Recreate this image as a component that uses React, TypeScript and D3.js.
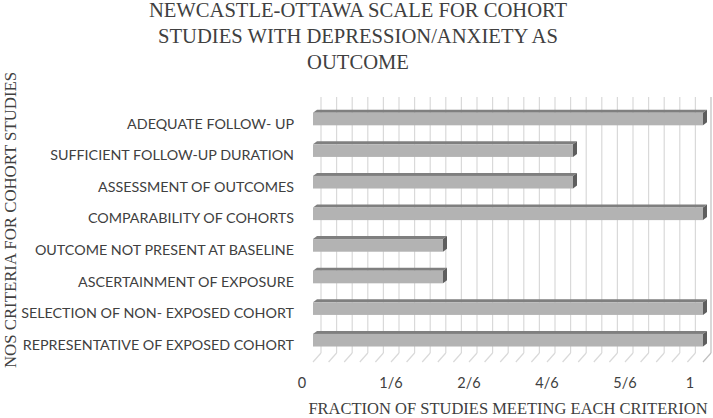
import React from "react";
import * as d3 from "d3";

const categories = [
  "ADEQUATE FOLLOW- UP",
  "SUFFICIENT FOLLOW-UP DURATION",
  "ASSESSMENT OF OUTCOMES",
  "COMPARABILITY OF COHORTS",
  "OUTCOME NOT PRESENT AT BASELINE",
  "ASCERTAINMENT OF EXPOSURE",
  "SELECTION OF NON- EXPOSED COHORT",
  "REPRESENTATIVE OF EXPOSED COHORT",
];
const values = [1, 4 / 6, 4 / 6, 1, 2 / 6, 2 / 6, 1, 1];
const tickValues = [0, 0.2, 0.4, 0.6, 0.8, 1];
const tickLabels = ["0", "1/6", "2/6", "4/6", "5/6", "1"];
const titleLines = [
  "NEWCASTLE-OTTAWA SCALE FOR COHORT",
  "STUDIES WITH DEPRESSION/ANXIETY AS",
  "OUTCOME",
];
const yTitle = "NOS CRITERIA FOR COHORT STUDIES";
const xTitle = "FRACTION OF STUDIES MEETING EACH CRITERION";

const W = 713;
const H = 418;
const serif = "'Liberation Serif', 'Times New Roman', serif";
const sans = "Lato, 'Noto Sans', sans-serif";

export default function App() {
  const x = d3.scaleLinear().domain([0, 1]).range([313, 703]);
  const y = d3
    .scaleBand<string>()
    .domain(categories)
    .range([103.2, 356])
    .paddingInner(0.6)
    .paddingOuter(0.3);

  const wdx = 8;
  const wdy = -9;
  const wallTop = 97;
  const wallBottom = 353;
  const bdx = 4;
  const bdy = -3;

  const grid = d3.range(0, 26).map((i) => i / 25);

  return (
    <svg
      width={W}
      height={H}
      style={{ position: "absolute", left: 0, top: 0, background: "#fff" }}
    >
      <g fill="#404040" fontFamily={serif} fontSize={20.6} textAnchor="middle">
        {titleLines.map((t, i) => (
          <text key={i} x={358} y={17 + i * 26}>
            {t}
          </text>
        ))}
      </g>

      <g strokeWidth={1.2}>
        {grid.map((g, i) => (
          <line
            key={"g" + i}
            x1={x(g) + wdx}
            x2={x(g) + wdx}
            y1={wallTop}
            y2={wallBottom}
            stroke={i === 25 ? "#bfbfbf" : "#d9d9d9"}
          />
        ))}
        {grid.map((g, i) => (
          <line
            key={"f" + i}
            x1={x(g) + wdx}
            x2={x(g)}
            y1={wallBottom}
            y2={wallBottom - wdy}
            stroke={i === 25 ? "#bfbfbf" : "#d9d9d9"}
          />
        ))}
      </g>

      {categories.map((c, i) => {
        const y0 = y(c) as number;
        const y1 = y0 + y.bandwidth();
        const x0 = x(0);
        const x1 = x(values[i]);
        return (
          <g key={c}>
            <polygon
              points={`${x0},${y0} ${x0 + bdx},${y0 + bdy} ${x1 + bdx},${y0 + bdy} ${x1},${y0}`}
              fill="#7f7f7f"
            />
            <polygon
              points={`${x1},${y0} ${x1 + bdx},${y0 + bdy} ${x1 + bdx},${y1 + bdy} ${x1},${y1}`}
              fill="#5e5e5e"
            />
            <rect x={x0} y={y0} width={x1 - x0} height={y1 - y0} fill="#b3b3b3" />
          </g>
        );
      })}

      <g fill="#404040" fontFamily={sans} fontSize={14.3} textAnchor="end">
        {categories.map((c) => (
          <text
            key={c}
            x={294}
            y={(y(c) as number) + y.bandwidth() / 2 + 6}
            dominantBaseline="middle"
          >
            {c}
          </text>
        ))}
      </g>

      <g fill="#404040" fontFamily={sans} fontSize={14.5} textAnchor="middle">
        {tickValues.map((v, i) => {
          const off = i === 0 ? -11 : i === tickValues.length - 1 ? -13 : 0;
          return (
            <text key={i} x={x(v) + off} y={388}>
              {tickLabels[i]}
            </text>
          );
        })}
      </g>

      <text
        x={508}
        y={414}
        fill="#404040"
        fontFamily={serif}
        fontSize={16.5}
        textAnchor="middle"
      >
        {xTitle}
      </text>
      <text
        transform={`translate(16, 220) rotate(-90)`}
        fill="#404040"
        fontFamily={serif}
        fontSize={16.8}
        textAnchor="middle"
      >
        {yTitle}
      </text>
    </svg>
  );
}
